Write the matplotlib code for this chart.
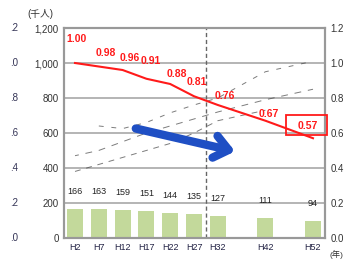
import matplotlib
matplotlib.use("Agg")
import matplotlib.pyplot as plt

# Data
years = [2, 7, 12, 17, 22, 27, 32, 42, 52]
year_labels = ['H2', 'H7', 'H12', 'H17', 'H22', 'H27', 'H32', 'H42', 'H52']
bars = [166, 163, 159, 151, 144, 135, 127, 111, 94]
ratio = [1.00, 0.98, 0.96, 0.91, 0.88, 0.81, 0.76, 0.67, 0.57]
ratio_labels = ['1.00', '0.98', '0.96', '0.91', '0.88', '0.81', '0.76', '0.67', '0.57']

# faint broken lines in the background (left axis units)
line_low = [380, 420, 460, 500, 540, 600, 670, 730]
line_mid = [470, 500, 550, 600, 640, 680, 720, 790, 850]
line_top = [640, 625, 660, 715, 760, 800, 950, 1010]

left_ticks = [0, 200, 400, 600, 800, 1000, 1200]
left_labels = ['0', '200', '400', '600', '800', '1,000', '1,200']
right_ticks = [0.0, 0.2, 0.4, 0.6, 0.8, 1.0, 1.2]
far_labels = ['.0', '.2', '.4', '.6', '.8', '.0', '.2']

plt.rcParams['font.family'] = ['Liberation Sans', 'Noto Sans CJK JP', 'DejaVu Sans']

fig = plt.figure(figsize=(3.52, 2.62), dpi=100)
ax = fig.add_axes([0.182, 0.092, 0.741, 0.801])
ax2 = ax.twinx()

ax.set_xlim(-0.3, 54.5)
ax.set_ylim(0, 1200)
ax2.set_ylim(0, 1.2)

# grid
for v in left_ticks[1:-1]:
    ax.axhline(v, color='#a8a8a8', lw=1.2, zorder=0)

# bars
ax.bar(years, bars, width=3.4, color='#c3d99b', zorder=2)
for x, v in zip(years, bars):
    ax.text(x, v + 100, str(v), ha='center', va='center', fontsize=6.5, color='#222222', zorder=5)

# faint lines
ax.plot(years[:8], line_low, color='#444444', lw=0.7, ls=(0, (6, 6)), alpha=0.7, zorder=1)
ax.plot(years, line_mid, color='#444444', lw=0.7, ls=(3, (7, 7)), alpha=0.7, zorder=1)
ax.plot(years[1:], line_top, color='#444444', lw=0.7, ls=(0, (5, 8)), alpha=0.7, zorder=1)

# dashed separator
ax.axvline(29.6, color='#666666', lw=1.0, ls=(0, (3, 2)), zorder=3)

# blue arrow
ax.annotate('', xy=(36.2, 491), xytext=(14.2, 629),
            arrowprops=dict(arrowstyle='->,head_length=1.0,head_width=0.8',
                            color='#1f4fc4', lw=6), zorder=4)

# red ratio line
ax2.plot(years, ratio, color='#ff1a1a', lw=1.5, zorder=4)
offsets = [(0.3, 0.14), (1.5, 0.08), (1.5, 0.07), (1.0, 0.10), (1.5, 0.06),
           (0.5, 0.08), (1.5, 0.05), (0.8, 0.04), (-1.0, 0.07)]
for x, v, t, (dx, dy) in zip(years, ratio, ratio_labels, offsets):
    ax2.text(x + dx, v + dy, t, ha='center', va='center', fontsize=7.5,
             fontweight='bold', color='#ff1a1a', zorder=6)
ax2.add_patch(plt.Rectangle((46.4, 0.590), 8.6, 0.11, fill=False, edgecolor='#ff1a1a',
                            lw=1.3, clip_on=False, zorder=6))

# axes styling
ax.set_yticks(left_ticks)
ax.set_yticklabels(left_labels, fontsize=7, color='#333333')
ax2.set_yticks(right_ticks)
ax2.set_yticklabels(['%.1f' % t for t in right_ticks], fontsize=7, color='#333333')
ax.set_xticks(years)
ax.set_xticklabels(year_labels, fontsize=6.5, color='#222244')
ax.tick_params(length=0, pad=4)
ax2.tick_params(length=0, pad=4)
for a in (ax, ax2):
    for s in a.spines.values():
        s.set_color('#999999')
        s.set_linewidth(1.5)

# cut-off far left axis
for t, v in zip(far_labels, left_ticks):
    ax.text(-0.175, v, t, transform=ax.get_yaxis_transform(), ha='right', va='center',
            fontsize=7, color='#333355')

fig.text(0.115, 0.945, '(千人)', fontsize=7, color='#333333', ha='center', va='center')
fig.text(0.955, 0.03, '(年)', fontsize=6, color='#333333', ha='center', va='center')

fig.savefig('out.png', dpi=100)
